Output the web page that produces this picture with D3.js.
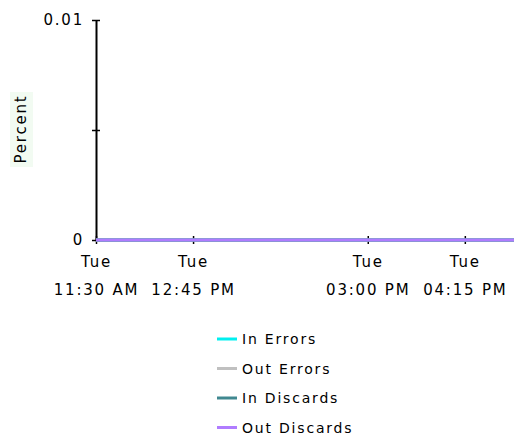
<!DOCTYPE html>
<html>
<head>
<meta charset="utf-8">
<script src="https://cdn.jsdelivr.net/npm/d3@7"></script>
<style>
  body { margin: 0; background: #fff; }
  svg { display: block; font-family: "DejaVu Sans", Verdana, sans-serif; }
  text { letter-spacing: 1.8px; }
</style>
</head>
<body>
<svg></svg>
<script>
// sample times (Tue) and series values, all zero percent
let times = ["11:30", "11:45", "12:00", "12:15", "12:30", "12:45", "13:00", "13:15", "13:30", "13:45",
             "14:00", "14:15", "14:30", "14:45", "15:00", "15:15", "15:30", "15:45", "16:00", "16:15",
             "16:30", "16:45", "16:53"];
let inErrors     = [0,0,0,0,0,0,0,0,0,0,0,0,0,0,0,0,0,0,0,0,0,0,0];
let outErrors    = [0,0,0,0,0,0,0,0,0,0,0,0,0,0,0,0,0,0,0,0,0,0,0];
let inDiscards   = [0,0,0,0,0,0,0,0,0,0,0,0,0,0,0,0,0,0,0,0,0,0,0];
let outDiscards  = [0,0,0,0,0,0,0,0,0,0,0,0,0,0,0,0,0,0,0,0,0,0,0];

let seriesNames = ["In Errors", "Out Errors", "In Discards", "Out Discards"];
let seriesColors = ["#00f0f0", "#c0c0c0", "#408890", "#b07cff"];
let xTicks = ["11:30", "12:45", "15:00", "16:15"];
let yTicks = [0, 0.005, 0.01];
let yTickLabels = ["0", "", "0.01"];

let width = 514;
let height = 438;
let fontSize = 15;

let parse = (t) => {
    let p = t.split(":");
    return new Date(2024, 0, 2, +p[0], +p[1]);
};

let svg = d3.select("svg").attr("width", width).attr("height", height);

let xScale = d3.scaleTime()
    .domain([parse(times[0]), parse(times[times.length - 1])])
    .range([96, 514]);

let yScale = d3.scaleLinear()
    .domain([0, 0.01])
    .range([240, 20]);

// y axis label
svg.append("rect")
    .attr("x", 10).attr("y", 92)
    .attr("width", 23).attr("height", 75)
    .attr("fill", "#f2fbf2");
svg.append("text")
    .attr("transform", "translate(26, 129) rotate(-90)")
    .attr("text-anchor", "middle")
    .attr("font-size", fontSize)
    .text("Percent");

// y axis
let yAxis = d3.axisLeft(yScale)
    .tickValues(yTicks)
    .tickSize(4)
    .tickSizeOuter(0)
    .tickFormat((d, i) => yTickLabels[i]);

let gy = svg.append("g")
    .attr("transform", "translate(96, 0)")
    .call(yAxis);
gy.select(".domain").attr("stroke", "#000").attr("stroke-width", 2);
gy.selectAll(".tick line").attr("x2", 4).attr("x1", -4).attr("stroke-width", 1.5);
gy.selectAll(".tick text")
    .attr("x", -12)
    .attr("font-size", fontSize)
    .attr("font-family", "DejaVu Sans, Verdana, sans-serif")
    .attr("fill", "#000");

// x axis
let xAxis = d3.axisBottom(xScale)
    .tickValues(xTicks.map(parse))
    .tickSize(4)
    .tickSizeOuter(0)
    .tickFormat(() => "");

let gx = svg.append("g")
    .attr("transform", "translate(0, 240)")
    .call(xAxis);
gx.select(".domain").attr("stroke", "#000").attr("stroke-width", 1.5);
gx.selectAll(".tick line").attr("y1", -4).attr("y2", 4).attr("stroke-width", 1.5);

let tickFmt = d3.timeFormat("%I:%M %p");
gx.selectAll(".tick").each(function(d) {
    let t = d3.select(this);
    t.append("text")
        .attr("y", 27).attr("text-anchor", "middle")
        .attr("font-size", fontSize).attr("fill", "#000")
        .attr("font-family", "DejaVu Sans, Verdana, sans-serif")
        .text("Tue");
    t.append("text")
        .attr("y", 55).attr("text-anchor", "middle")
        .attr("font-size", fontSize).attr("fill", "#000")
        .attr("font-family", "DejaVu Sans, Verdana, sans-serif")
        .text(tickFmt(d));
});

// lines
let allSeries = [inErrors, outErrors, inDiscards, outDiscards];
let line = d3.line()
    .x((d, i) => xScale(parse(times[i])))
    .y((d) => yScale(d));

allSeries.forEach((s, k) => {
    svg.append("path")
        .datum(s)
        .attr("fill", "none")
        .attr("stroke", seriesColors[k])
        .attr("stroke-width", 3)
        .attr("d", line);
});

// legend
let legend = svg.append("g");
seriesNames.forEach((name, i) => {
    let y = 339 + i * 29.5;
    legend.append("line")
        .attr("x1", 217).attr("x2", 237)
        .attr("y1", y).attr("y2", y)
        .attr("stroke", seriesColors[i])
        .attr("stroke-width", 3);
    legend.append("text")
        .attr("x", 242).attr("y", y + 5)
        .attr("font-size", fontSize - 1)
        .text(name);
});
</script>
</body>
</html>
